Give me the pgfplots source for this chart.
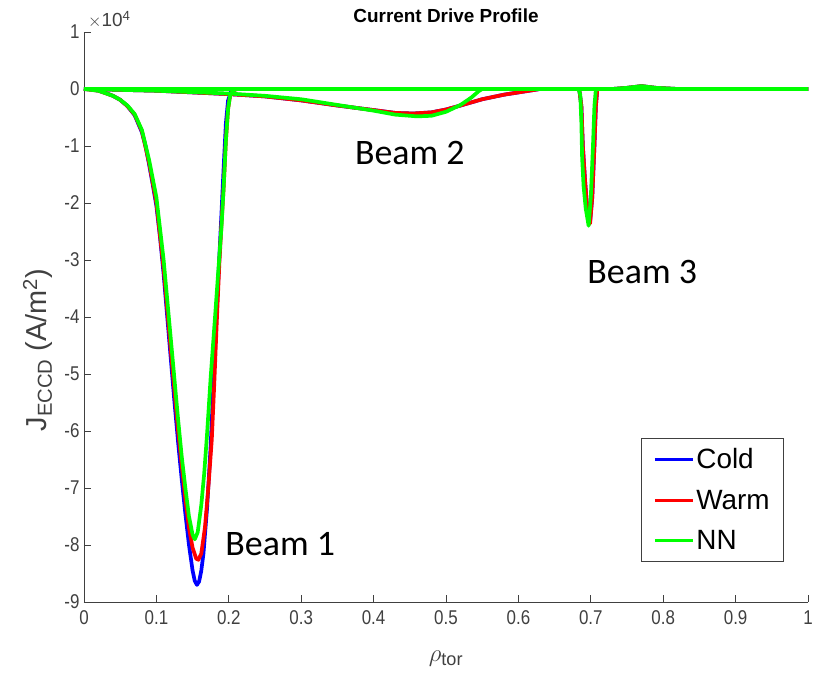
\documentclass[border=0pt]{standalone}
\usepackage{pgfplots}
\pgfplotsset{compat=1.18}
\usepackage{fontspec}
\setmainfont{Liberation Sans}
\newfontfamily\mlfont{Liberation Sans}
\newfontfamily\tkfont[FakeStretch=0.85]{Liberation Sans}
\newfontfamily\calfont{Carlito}
\definecolor{axgray}{RGB}{64,64,64}
\definecolor{cblue}{RGB}{0,0,255}
\definecolor{cred}{RGB}{255,0,0}
\definecolor{cgreen}{RGB}{0,255,0}
\begin{document}
\begin{tikzpicture}
\begin{axis}[
  name=ax,
  scale only axis,
  width=724bp, height=570bp,
  xmin=0, xmax=1, ymin=-9, ymax=1,
  xtick={0,0.1,0.2,0.3,0.4,0.5,0.6,0.7,0.8,0.9,1},
  ytick={-9,-8,-7,-6,-5,-4,-3,-2,-1,0,1},
  axis x line*=bottom, axis y line*=left,
  axis line style={-, axgray, line width=0.8bp},
  tick align=inside,
  major tick length=7bp,
  tick style={axgray, line width=0.8bp},
  /pgf/number format/assume math mode=true,
  ticklabel style={font=\tkfont\fontsize{20}{20}\selectfont, color=axgray},
  xticklabel style={yshift=-5bp},
  yticklabel style={xshift=-1bp},
  xlabel={$\rho$\textsubscript{tor}},
  xlabel style={font=\mlfont\fontsize{26}{26}\selectfont, color=axgray, at={(axis description cs:0.5,-0.1)}, anchor=center},
  ylabel={J\textsubscript{ECCD} (A/m\textsuperscript{2})},
  ylabel style={font=\mlfont\fontsize{29}{29}\selectfont, color=axgray, at={(axis description cs:-0.064,0.442)}, anchor=center},
  legend style={at={(0.967,0.288)}, anchor=north east, draw=axgray, line width=0.8bp,
    font=\mlfont\fontsize{28}{30}\selectfont, row sep=16bp, inner xsep=12bp, inner ysep=8bp,
    cells={anchor=west}},
  legend image code/.code={\draw[#1, line width=3bp] (0bp,0bp) -- (38bp,0bp);},
  every axis plot/.append style={line width=3.7bp, line join=round},
  clip=false,
]
% ---- Cold ----
\addplot[cblue] coordinates {(0,0) (0.01,-0.01) (0.02,-0.03) (0.03,-0.07) (0.04,-0.12) (0.05,-0.19) (0.06,-0.3) (0.07,-0.46) (0.08,-0.76) (0.085,-1.0) (0.09,-1.33) (0.095,-1.68) (0.1,-2.05) (0.105,-2.6) (0.11,-3.25) (0.115,-4.0) (0.12,-4.75) (0.125,-5.5) (0.13,-6.2) (0.135,-6.85) (0.14,-7.45) (0.145,-8.0) (0.15,-8.45) (0.153,-8.63) (0.156,-8.7) (0.159,-8.64) (0.162,-8.45) (0.165,-8.15) (0.17,-7.35) (0.175,-6.25) (0.18,-4.85) (0.185,-3.45) (0.19,-2.15) (0.193,-1.35) (0.196,-0.6) (0.199,-0.2) (0.203,-0.05) (0.21,0) (1,0)};
\addlegendentry{Cold}
\addplot[cblue, forget plot] coordinates {(0,0) (0.1,-0.03) (0.2,-0.09) (0.25,-0.13) (0.3,-0.2) (0.35,-0.29) (0.4,-0.37) (0.43,-0.42) (0.455,-0.43) (0.48,-0.41) (0.5,-0.36) (0.52,-0.29) (0.55,-0.18) (0.58,-0.1) (0.61,-0.04) (0.63,0) (1,0)};
\addplot[cblue, forget plot] coordinates {(0,0) (0.684,0) (0.687,-0.3) (0.689,-1.0) (0.692,-1.6) (0.695,-2.1) (0.699,-2.33) (0.702,-1.9) (0.705,-1.0) (0.707,-0.3) (0.709,0) (0.73,0) (0.75,0.02) (0.77,0.05) (0.79,0.02) (0.82,0) (1,0)};
% ---- Warm ----
\addplot[cred] coordinates {(0,0) (0.02,-0.03) (0.04,-0.12) (0.05,-0.19) (0.06,-0.3) (0.07,-0.45) (0.08,-0.74) (0.09,-1.3) (0.1,-2.0) (0.11,-3.15) (0.12,-4.6) (0.13,-6.0) (0.14,-7.2) (0.145,-7.7) (0.15,-8.05) (0.155,-8.24) (0.158,-8.26) (0.162,-8.15) (0.167,-7.7) (0.172,-6.95) (0.1765,-6.15) (0.18,-5.15) (0.1835,-4.05) (0.187,-3.05) (0.19,-2.35) (0.193,-1.7) (0.196,-0.9) (0.199,-0.35) (0.202,-0.1) (0.207,-0.02) (0.212,0) (1,0)};
\addlegendentry{Warm}
\addplot[cred, forget plot] coordinates {(0,0) (0.1,-0.03) (0.2,-0.09) (0.25,-0.13) (0.3,-0.2) (0.35,-0.29) (0.4,-0.37) (0.43,-0.42) (0.455,-0.43) (0.48,-0.41) (0.5,-0.36) (0.52,-0.29) (0.55,-0.18) (0.58,-0.1) (0.61,-0.04) (0.63,0) (1,0)};
\addplot[cred, forget plot] coordinates {(0,0) (0.684,0) (0.687,-0.3) (0.689,-1.0) (0.692,-1.6) (0.695,-2.1) (0.699,-2.36) (0.702,-1.9) (0.705,-1.0) (0.707,-0.3) (0.709,0) (0.73,0) (0.75,0.02) (0.77,0.05) (0.79,0.02) (0.82,0) (1,0)};
% ---- NN ----
\addplot[cgreen] coordinates {(0,0) (0.02,-0.03) (0.04,-0.12) (0.05,-0.19) (0.06,-0.29) (0.07,-0.44) (0.08,-0.72) (0.09,-1.25) (0.1,-1.9) (0.11,-3.0) (0.12,-4.4) (0.13,-5.8) (0.135,-6.45) (0.14,-7.0) (0.145,-7.5) (0.15,-7.82) (0.153,-7.9) (0.157,-7.78) (0.162,-7.3) (0.166,-6.75) (0.17,-6.05) (0.175,-5.05) (0.181,-4.0) (0.186,-3.1) (0.19,-2.4) (0.193,-1.7) (0.196,-0.9) (0.199,-0.35) (0.202,-0.1) (0.207,-0.02) (0.212,0) (1,0)};
\addlegendentry{NN}
\addplot[cgreen, forget plot] coordinates {(0,0) (0.1,-0.03) (0.2,-0.08) (0.25,-0.12) (0.3,-0.18) (0.35,-0.28) (0.4,-0.38) (0.43,-0.45) (0.46,-0.48) (0.48,-0.47) (0.5,-0.4) (0.52,-0.28) (0.535,-0.15) (0.545,-0.04) (0.55,0) (1,0)};
\addplot[cgreen, forget plot] coordinates {(0,0) (0.683,0) (0.6855,-0.1) (0.687,-0.6) (0.688,-1.2) (0.69,-1.7) (0.693,-2.1) (0.697,-2.4) (0.7,-1.9) (0.703,-1.0) (0.705,-0.3) (0.707,0) (0.73,0) (0.75,0.02) (0.77,0.05) (0.79,0.02) (0.82,0) (1,0)};
% annotations
\node[font=\calfont\fontsize{36}{36}\selectfont, anchor=center] at (axis cs:0.271,-7.98) {Beam 1};
\node[font=\calfont\fontsize{36}{36}\selectfont, anchor=center] at (axis cs:0.45,-1.12) {Beam 2};
\node[font=\calfont\fontsize{36}{36}\selectfont, anchor=center] at (axis cs:0.771,-3.21) {Beam 3};
\node[font=\mlfont\fontsize{19}{19}\selectfont, color=axgray, anchor=south west, inner sep=0pt] at ([xshift=4bp,yshift=4bp]rel axis cs:0,1) {$\times$10\textsuperscript{4}};
\node[font=\mlfont\bfseries\fontsize{19}{19}\selectfont, anchor=base, inner sep=0pt] at ([yshift=9bp]rel axis cs:0.5,1) {Current Drive Profile};
\end{axis}
\pgfresetboundingbox
\path (-84bp,-77bp) rectangle (730bp,602bp);
\end{tikzpicture}
\end{document}
